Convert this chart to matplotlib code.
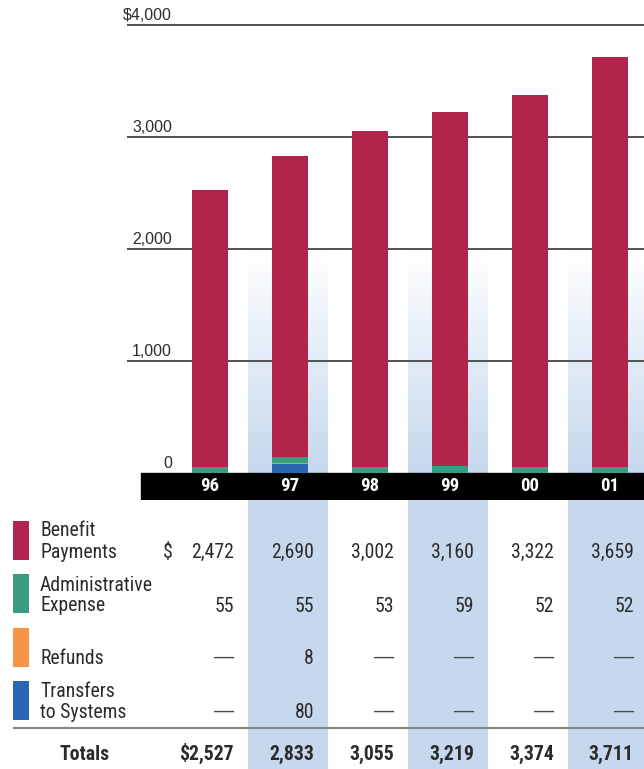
import matplotlib
matplotlib.use("Agg")
import matplotlib.pyplot as plt
import numpy as np
from matplotlib.patches import Rectangle
from matplotlib.colors import LinearSegmentedColormap

# ---------------- data ----------------
years = ["96", "97", "98", "99", "00", "01"]
benefit = [2472, 2690, 3002, 3160, 3322, 3659]
admin = [55, 55, 53, 59, 52, 52]
refunds = [0, 8, 0, 0, 0, 0]
transfers = [0, 80, 0, 0, 0, 0]
totals = [2527, 2833, 3055, 3219, 3374, 3711]
y_ticks = [0, 1000, 2000, 3000, 4000]
y_tick_labels = ["0", "1,000", "2,000", "3,000", "$4,000"]
series_labels = [("Benefit", "Payments"), ("Administrative", "Expense"),
                 ("", "Refunds"), ("Transfers", "to Systems")]
shaded = [1, 3, 5]

# ---------------- style ----------------
C_BEN = "#b2244c"
C_ADM = "#3a9a82"
C_REF = "#f7944a"
C_TRN = "#2a67b2"
C_SHADE = "#c5d8ee"
TXT = "#2b2b2b"
NARROW = ["Roboto Condensed", "Roboto", "DejaVu Sans"]
REG = ["Liberation Sans", "DejaVu Sans"]

W, H = 644, 769
fig = plt.figure(figsize=(W / 100, H / 100), dpi=100)

def X(p):  # pixel x -> category coordinate
    return (p - 210) / 80.0

XL = (X(0), X(W))
n = len(years)
xs = np.arange(n)

# ---------------- chart ----------------
ax = fig.add_axes([0, (H - 500) / H, 1, 500 / H])
ax.axis("off")
ylo, yhi = -27 / 112 * 1000, 473 / 112 * 1000

cmap = LinearSegmentedColormap.from_list("sh", ["#ffffff", C_SHADE])
grad = np.linspace(0, 1, 200).reshape(-1, 1)
for i in shaded:
    x0 = i - 0.525
    x1 = min(i + 0.475, XL[1])
    ax.imshow(grad, extent=[x0, x1, 0, 2000], origin="upper", aspect="auto",
              cmap=cmap, vmin=0, vmax=1, zorder=0)

ax.hlines(y_ticks[1:], X(127), XL[1], color="#444444", lw=1.3, zorder=1)
for v, lab in zip(y_ticks, y_tick_labels):
    ax.text(X(172), v + 5 / 112 * 1000, lab, ha="right", va="baseline",
            fontsize=11.5, family=REG, color=TXT)

ax.add_patch(Rectangle((X(141), ylo), XL[1] - X(141), -ylo, color="black", zorder=2))

bw = 36 / 80
bottom = np.zeros(n)
for vals, col in [(transfers, C_TRN), (refunds, C_REF), (admin, C_ADM), (benefit, C_BEN)]:
    ax.bar(xs, vals, width=bw, bottom=bottom, color=col, zorder=3, linewidth=0)
    bottom += np.array(vals)

for i, yr in enumerate(years):
    ax.text(i, -116, yr, ha="center", va="center", color="white",
            fontsize=13.5, fontweight="bold", family=NARROW, zorder=4)

ax.set_xlim(*XL)
ax.set_ylim(ylo, yhi)

# ---------------- table ----------------
tx = fig.add_axes([0, 0, 1, (H - 500) / H])
tx.axis("off")
tx.set_xlim(*XL)
tx.set_ylim(H, 500)

for i in shaded:
    x0 = i - 0.525
    x1 = min(i + 0.475, XL[1])
    tx.add_patch(Rectangle((x0, 500), x1 - x0, H - 500, color=C_SHADE, zorder=0, linewidth=0))

sw_tops = [521, 574, 628, 681]
line1 = [536, 591, None, 697]
line2 = [558, 611, 664, 718]
val_base = [558, 612, 664, 718]
colors = [C_BEN, C_ADM, C_REF, C_TRN]
FS = 14.2
for r, (labs, col) in enumerate(zip(series_labels, colors)):
    tx.add_patch(Rectangle((X(13), sw_tops[r]), X(29) - X(13), 39, color=col, linewidth=0))
    if labs[0]:
        tx.text(X(40), line1[r], labs[0], ha="left", va="baseline", fontsize=FS,
                family=NARROW, color=TXT)
    tx.text(X(40), line2[r], labs[1], ha="left", va="baseline", fontsize=FS,
            family=NARROW, color=TXT)

rows = [benefit, admin, refunds, transfers]
for r, vals in enumerate(rows):
    for i, v in enumerate(vals):
        if v:
            tx.text(i + 0.3, val_base[r], f"{v:,}", ha="right", va="baseline",
                    fontsize=FS, family=NARROW, color=TXT)
        else:
            tx.text(i + 0.3, val_base[r] - 1, "\u2014", ha="right", va="baseline",
                    fontsize=14.5, family=REG, color="#444444")
tx.text(X(163), val_base[0], "$", ha="left", va="baseline", fontsize=FS,
        family=NARROW, color=TXT)

tx.hlines(728, X(13), XL[1], color="#888888", lw=1.6)

tx.text(X(110), 760, "Totals", ha="right", va="baseline", fontsize=FS,
        fontweight="bold", family=NARROW, color=TXT)
for i, v in enumerate(totals):
    s = (f"${v:,}" if i == 0 else f"{v:,}")
    tx.text(i + 0.3, 760, s, ha="right", va="baseline", fontsize=FS,
            fontweight="bold", family=NARROW, color=TXT)

fig.savefig("out.png", dpi=100)
